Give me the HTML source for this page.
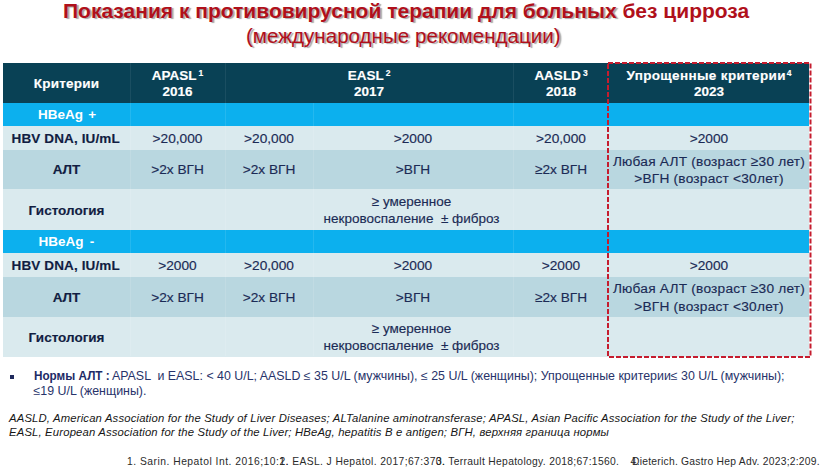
<!DOCTYPE html>
<html lang="ru"><head><meta charset="utf-8">
<style>
*{margin:0;padding:0;box-sizing:border-box}
html,body{width:827px;height:471px;overflow:hidden;background:#fff}
body{position:relative;font-family:"Liberation Sans",Arial,sans-serif}
.t{position:absolute;white-space:nowrap}
.title{color:#b0101b;font-size:21px;line-height:21px;font-weight:bold}
.sh{text-shadow:2px 1px 1px rgba(110,110,110,.6)}
.cell{position:absolute;display:flex;align-items:center;justify-content:center;text-align:center;font-size:13.7px;line-height:16px;color:#1b2a55;padding-top:1px;-webkit-text-stroke-width:.15px}
.h{background:#094155;color:#fff;font-weight:bold;line-height:16.5px;font-size:13.5px;padding-top:2px}
.b{background:#0cb0ee}
.l{background:#daeaee}
.d{background:#b9d7e0}
.lab{font-weight:bold;color:#111d42;font-size:13.5px}
.vl{position:absolute;width:1px}
.s{font-size:8.5px;vertical-align:top;position:relative;top:1.5px;margin-left:2px;line-height:8px}
.note{position:absolute;font-size:12.4px;line-height:15px;color:#27336a;white-space:nowrap}
.abbr{position:absolute;font-size:11.3px;letter-spacing:.16px;font-style:italic;color:#161616;line-height:15px;white-space:nowrap}
.ref{position:absolute;font-size:10.3px;letter-spacing:.4px;color:#2a2a2a;white-space:nowrap;line-height:12px}
</style></head><body>

<div class="t title" style="left:63px;top:-0.5px"><span class="sh">Показания к противовирусной терапии для больных</span> без цирроза</div>
<div class="t title sh" style="left:246px;top:24.8px;font-weight:normal;font-size:20.6px;-webkit-text-stroke:.15px #b0101b">(международные рекомендации)</div>

<!-- header row -->
<div class="cell h" style="left:3px;top:63px;width:127px;height:40px"><div style="letter-spacing:.2px">Критерии</div></div>
<div class="cell h" style="left:130px;top:63px;width:95px;height:40px"><div>APASL<span class="s">1</span><br>2016</div></div>
<div class="cell h" style="left:225px;top:63px;width:288px;height:40px"><div>EASL<span class="s">2</span><br>2017</div></div>
<div class="cell h" style="left:513px;top:63px;width:96px;height:40px"><div>AASLD<span class="s">3</span><br>2018</div></div>
<div class="cell h" style="left:609px;top:63px;width:200px;height:40px"><div><span style="letter-spacing:.35px">Упрощенные критерии</span><span class="s" style="margin-left:1px">4</span><br>2023</div></div>

<!-- HBeAg + -->
<div class="cell b" style="left:3px;top:103px;width:806px;height:23px"></div>
<div class="t" style="left:38px;top:107px;color:#fff;font-weight:bold;font-size:13.5px;line-height:16px;word-spacing:1.5px">HBeAg +</div>

<div class="cell l lab" style="left:3px;top:126px;width:127px;height:24px"><div style="letter-spacing:.12px;position:relative;left:-0.8px">HBV DNA, IU/mL</div></div>
<div class="cell l" style="left:130px;top:126px;width:95px;height:24px"><div>&gt;20,000</div></div>
<div class="cell l" style="left:225px;top:126px;width:88px;height:24px"><div>&gt;20,000</div></div>
<div class="cell l" style="left:313px;top:126px;width:200px;height:24px"><div>&gt;2000</div></div>
<div class="cell l" style="left:513px;top:126px;width:96px;height:24px"><div>&gt;20,000</div></div>
<div class="cell l" style="left:609px;top:126px;width:200px;height:24px"><div>&gt;2000</div></div>

<div class="cell d lab" style="left:3px;top:150px;width:127px;height:39px"><div>АЛТ</div></div>
<div class="cell d" style="left:130px;top:150px;width:95px;height:39px"><div>&gt;2x ВГН</div></div>
<div class="cell d" style="left:225px;top:150px;width:88px;height:39px"><div>&gt;2x ВГН</div></div>
<div class="cell d" style="left:313px;top:150px;width:200px;height:39px"><div>&gt;ВГН</div></div>
<div class="cell d" style="left:513px;top:150px;width:96px;height:39px"><div>≥2x ВГН</div></div>
<div class="cell d" style="left:609px;top:150px;width:200px;height:39px"><div style="line-height:17.4px;letter-spacing:.22px">Любая АЛТ (возраст ≥30 лет)<br>&gt;ВГН (возраст &lt;30лет)</div></div>

<div class="cell l lab" style="left:3px;top:189px;width:127px;height:41px"><div style="position:relative;top:1px">Гистология</div></div>
<div class="cell l" style="left:130px;top:189px;width:95px;height:41px"></div>
<div class="cell l" style="left:225px;top:189px;width:384px;height:41px"></div>
<div class="cell" style="left:311.5px;top:189px;width:200px;height:41px"><div style="line-height:17px;font-size:13.5px">≥ умеренное<br>некровоспаление &nbsp;± фиброз</div></div>
<div class="cell l" style="left:609px;top:189px;width:200px;height:41px"></div>

<!-- HBeAg - -->
<div class="cell b" style="left:3px;top:230px;width:806px;height:23px"></div>
<div class="t" style="left:38.5px;top:234px;color:#fff;font-weight:bold;font-size:13.5px;line-height:16px;word-spacing:2.5px">HBeAg -</div>

<div class="cell l lab" style="left:3px;top:253px;width:127px;height:24px"><div style="letter-spacing:.12px;position:relative;left:-0.8px">HBV DNA, IU/mL</div></div>
<div class="cell l" style="left:130px;top:253px;width:95px;height:24px"><div>&gt;2000</div></div>
<div class="cell l" style="left:225px;top:253px;width:88px;height:24px"><div>&gt;20,000</div></div>
<div class="cell l" style="left:313px;top:253px;width:200px;height:24px"><div>&gt;2000</div></div>
<div class="cell l" style="left:513px;top:253px;width:96px;height:24px"><div>&gt;2000</div></div>
<div class="cell l" style="left:609px;top:253px;width:200px;height:24px"><div>&gt;2000</div></div>

<div class="cell d lab" style="left:3px;top:277px;width:127px;height:40px"><div>АЛТ</div></div>
<div class="cell d" style="left:130px;top:277px;width:95px;height:40px"><div>&gt;2x ВГН</div></div>
<div class="cell d" style="left:225px;top:277px;width:88px;height:40px"><div>&gt;2x ВГН</div></div>
<div class="cell d" style="left:313px;top:277px;width:200px;height:40px"><div>&gt;ВГН</div></div>
<div class="cell d" style="left:513px;top:277px;width:96px;height:40px"><div>≥2x ВГН</div></div>
<div class="cell d" style="left:609px;top:277px;width:200px;height:40px"><div style="line-height:17.4px;letter-spacing:.22px">Любая АЛТ (возраст ≥30 лет)<br>&gt;ВГН (возраст &lt;30лет)</div></div>

<div class="cell l lab" style="left:3px;top:317px;width:127px;height:39.5px"><div style="position:relative;top:1px">Гистология</div></div>
<div class="cell l" style="left:130px;top:317px;width:95px;height:39.5px"></div>
<div class="cell l" style="left:225px;top:317px;width:384px;height:39.5px"></div>
<div class="cell" style="left:311.5px;top:317px;width:200px;height:39.5px"><div style="line-height:17px;font-size:13.5px">≥ умеренное<br>некровоспаление &nbsp;± фиброз</div></div>
<div class="cell l" style="left:609px;top:317px;width:200px;height:39.5px"></div>

<svg style="position:absolute;left:0;top:0" width="827" height="471">
<g stroke-width="1" shape-rendering="crispEdges">
<path d="M130.5 63V103M225.5 63V103M513.5 63V103" stroke="rgba(255,255,255,.07)"/>
<path d="M130.5 103V126M225.5 103V126M313.5 103V126M513.5 103V126M130.5 230V253M225.5 230V253M313.5 230V253M513.5 230V253" stroke="rgba(255,255,255,.10)"/>
<path d="M130.5 126V230M225.5 126V230M313.5 126V230M513.5 126V230M130.5 253V356M225.5 253V356M313.5 253V356M513.5 253V356" stroke="rgba(255,255,255,.12)"/>
</g>
<rect x="608" y="63" width="202.5" height="294" fill="none" stroke="#c51c2e" stroke-width="2" stroke-dasharray="5 2"/>
</svg>

<div class="t" style="left:10.3px;top:375.2px;width:4px;height:3.8px;background:#1f2a5c"></div>
<div class="note" style="left:33.5px;top:368.6px;font-weight:bold;font-size:12.6px;color:#1d2a66;transform:scaleX(.93);transform-origin:0 0">Нормы АЛТ :</div>
<div class="note" style="left:112px;top:369.2px">APASL &nbsp;и EASL: &lt; 40 U/L; AASLD ≤ 35 U/L (мужчины), ≤ 25 U/L (женщины); Упрощенные критерии≤ 30 U/L (мужчины);</div>
<div class="note" style="left:33.5px;top:384.3px">≤19 U/L (женщины).</div>

<div class="abbr" style="left:9px;top:410.5px">AASLD, American Association for the Study of Liver Diseases; ALTalanine aminotransferase; APASL, Asian Pacific Association for the Study of the Liver;</div>
<div class="abbr" style="left:9px;top:424.7px">EASL, European Association for the Study of the Liver; HBeAg, hepatitis B e antigen; ВГН, верхняя граница нормы</div>

<div class="ref" style="left:127px;top:456px;letter-spacing:.5px">1. Sarin. Hepatol Int. 2016;10:1.</div>
<div class="ref" style="left:279.5px;top:456px">2. EASL. J Hepatol. 2017;67:370.</div>
<div class="ref" style="left:436px;top:456px;letter-spacing:.32px">3. Terrault Hepatology. 2018;67:1560.</div>
<div class="ref" style="left:630.5px;top:456px">4.</div>
<div class="ref" style="left:632px;top:456px;letter-spacing:.25px">Dieterich. Gastro Hep Adv. 2023;2:209.</div>
</body></html>
